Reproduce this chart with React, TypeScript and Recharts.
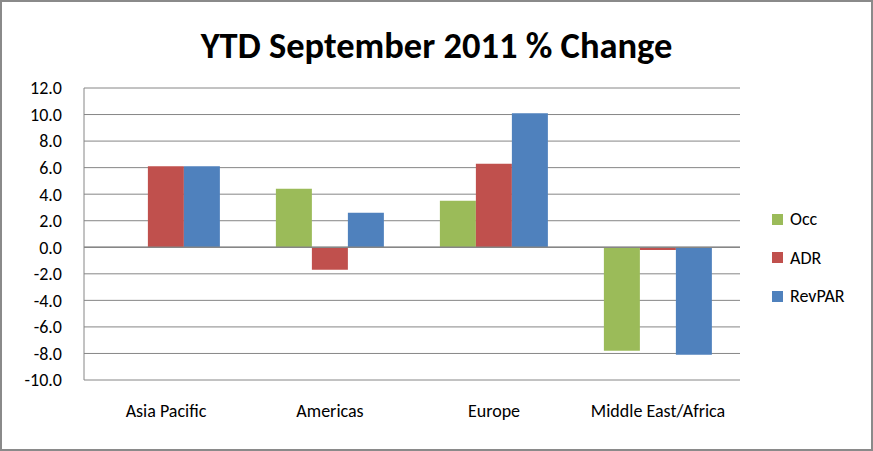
import { BarChart, Bar, XAxis, YAxis, CartesianGrid, ReferenceLine } from "recharts";

const regions = ["Asia Pacific", "Americas", "Europe", "Middle East/Africa"];
const occ = [0, 4.4, 3.5, -7.8];
const adr = [6.1, -1.7, 6.3, -0.2];
const revpar = [6.1, 2.6, 10.1, -8.1];
const yTicks = [-10, -8, -6, -4, -2, 0, 2, 4, 6, 8, 10, 12];

const series = [
  { key: "Occ", color: "#9BBB59" },
  { key: "ADR", color: "#C0504D" },
  { key: "RevPAR", color: "#4F81BD" },
];

const data = regions.map((region, i) => ({
  region,
  Occ: occ[i],
  ADR: adr[i],
  RevPAR: revpar[i],
}));

const font = "Carlito, Lato, 'Liberation Sans', sans-serif";

export default function App() {
  return (
    <div style={{ position: "fixed", left: 0, top: 0, width: 873, height: 451, background: "#fff" }}>
      <div
        style={{
          position: "absolute",
          left: 0,
          top: 0,
          width: 873,
          height: 451,
          boxSizing: "border-box",
          border: "2px solid #8a8a8a",
          pointerEvents: "none",
          zIndex: 2,
        }}
      />
      <div
        style={{
          position: "absolute",
          left: 0,
          top: 23,
          width: 873,
          textAlign: "center",
          fontFamily: font,
          fontWeight: 700,
          fontSize: 36.5,
          color: "#000",
        }}
      >
        YTD September 2011 % Change
      </div>
      <div
        style={{
          position: "absolute",
          left: 772,
          top: 200,
          fontFamily: font,
          fontSize: 18,
          color: "#000",
          zIndex: 1,
        }}
      >
        {series.map((s) => (
          <div key={s.key} style={{ display: "flex", alignItems: "center", height: 38.5 }}>
            <span style={{ width: 11, height: 11, background: s.color, marginRight: 7 }} />
            {s.key}
          </div>
        ))}
      </div>
      <BarChart
        width={873}
        height={451}
        data={data}
        margin={{ top: 88, right: 133, bottom: 41, left: 0 }}
        barCategoryGap="17%"
        barGap={0}
      >
        <CartesianGrid vertical={false} stroke="#868686" strokeWidth={1} />
        <XAxis
          dataKey="region"
          height={30}
          axisLine={false}
          tickLine={false}
          tickMargin={18}
          tick={{ fill: "#000", fontSize: 18, fontFamily: font }}
        />
        <YAxis
          width={84}
          domain={[-10, 12]}
          ticks={yTicks}
          interval={0}
          tickFormatter={(v: number) => v.toFixed(1)}
          axisLine={{ stroke: "#868686" }}
          tickLine={false}
          tickMargin={16}
          tick={{ fill: "#000", fontSize: 18, fontFamily: font }}
        />
        <ReferenceLine y={0} stroke="#868686" strokeWidth={1.5} />
        {series.map((s) => (
          <Bar key={s.key} dataKey={s.key} fill={s.color} isAnimationActive={false} />
        ))}
      </BarChart>
    </div>
  );
}
